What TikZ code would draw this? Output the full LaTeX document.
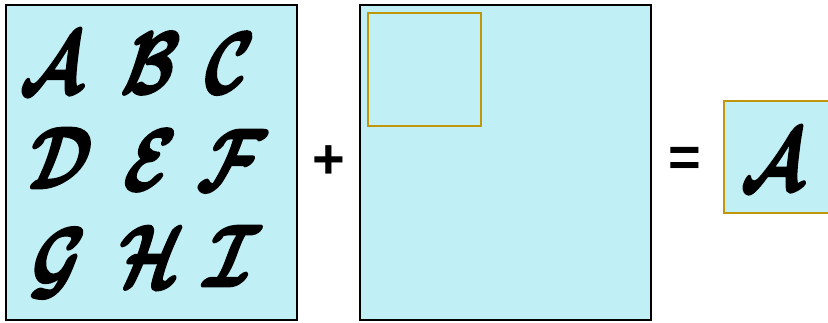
\documentclass[tikz,border=0pt]{standalone}
\usepackage{graphicx}
\usepackage{fontspec}
\newfontfamily\opfont{Liberation Sans}
\definecolor{boxfill}{HTML}{C0EFF6}
\definecolor{gold}{HTML}{C0960A}
\tikzset{
  panel/.style={draw=black, line width=1.5pt, fill=boxfill},
  goldbox/.style={draw=gold, line width=1.5pt, fill=boxfill},
  letter/.style={inner sep=0pt, anchor=center, xslant=0.18},
  op/.style={font=\opfont\bfseries\fontsize{56}{56}\selectfont, inner sep=0pt}
}
\newcommand{\cl}[1]{\scalebox{6.5}[8.7]{\special{pdf:literal 2 Tr 0.35 w 1 j}\boldmath$\mathcal{#1}$\special{pdf:literal 0 Tr}}}
\begin{document}
\begin{tikzpicture}[x=1pt,y=-1pt]
\useasboundingbox (0,0) rectangle (828,322);
\draw[panel] (6,5) rectangle (297,320);
\node[letter] (lA) at (55,63) {\cl{A}};
\node[letter] (lB) at (151,63) {\cl{B}};
\node[letter] (lC) at (229,63) {\cl{C}};
\node[letter] (lD) at (60,158) {\cl{D}};
\node[letter] (lE) at (150,160) {\cl{E}};
\node[letter] (lF) at (232,160) {\cl{F}};
\node[letter] (lG) at (57,263) {\cl{G}};
\node[letter] (lH) at (150,256) {\cl{H}};
\node[letter] (lI) at (232,256) {\cl{I}};
\node[op] (plus) at (329,162) {+};
\draw[panel] (360,5) rectangle (651,320);
\draw[goldbox] (368,13) rectangle (481,126);
\node[op] (eq) at (685,162) {=};
\draw[goldbox] (724,101) rectangle (837,213);
\node[letter] (rA) at (776,160) {\cl{A}};
\end{tikzpicture}
\end{document}
